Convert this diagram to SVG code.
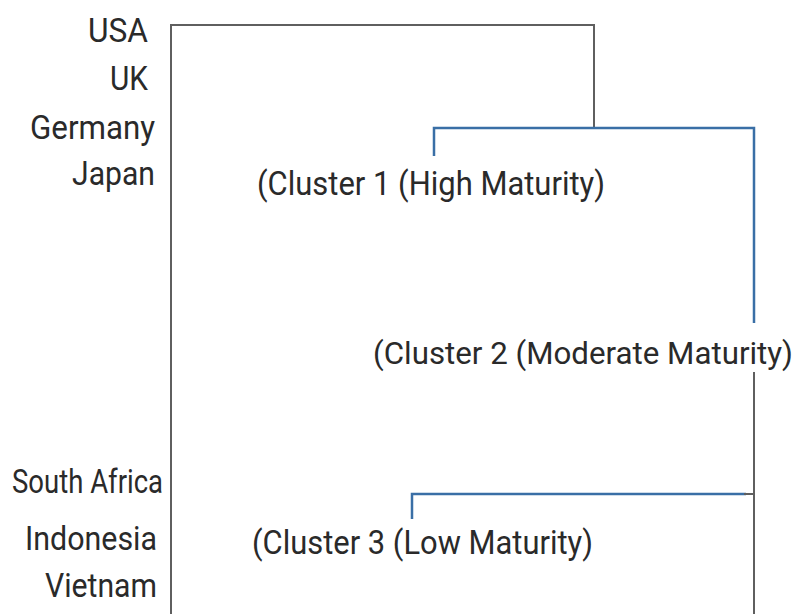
<svg xmlns="http://www.w3.org/2000/svg" width="800" height="614" viewBox="0 0 800 614">
<style>
text{font-family:Roboto,"Liberation Sans",sans-serif;font-size:33px;fill:#2a2a2a}
.lbl{text-anchor:end}
.c2{font-size:31px}
.g{stroke:#5f5f5f;stroke-width:2;fill:none}
.b{stroke:#3a6fa6;stroke-width:2.5;fill:none}
</style>
<rect width="800" height="614" fill="#fff"/>
<g id="connectors">
<polyline class="g" points="171,614 171,25 594,25 594,127"/>
<polyline class="b" points="434,156 434,128 754,128 754,323"/>
<polyline class="g" points="754,372 754,614"/>
<polyline class="b" points="412,519 412,494 746,494"/>
<line class="g" x1="744" y1="494" x2="754" y2="494"/>
</g>
<g id="usa"><text class="lbl" x="148" y="42" textLength="60" lengthAdjust="spacingAndGlyphs">USA</text></g>
<g id="uk"><text class="lbl" x="148" y="90" textLength="38" lengthAdjust="spacingAndGlyphs">UK</text></g>
<g id="germany"><text class="lbl" x="155" y="139" textLength="125" lengthAdjust="spacingAndGlyphs">Germany</text></g>
<g id="japan"><text class="lbl" x="155" y="185" textLength="83" lengthAdjust="spacingAndGlyphs">Japan</text></g>
<g id="southafrica"><text class="lbl" x="163" y="493" textLength="151" lengthAdjust="spacingAndGlyphs">South Africa</text></g>
<g id="indonesia"><text class="lbl" x="157" y="550" textLength="132" lengthAdjust="spacingAndGlyphs">Indonesia</text></g>
<g id="vietnam"><text class="lbl" x="157" y="597" textLength="112" lengthAdjust="spacingAndGlyphs">Vietnam</text></g>
<g id="cluster1"><text x="257" y="195" textLength="348" lengthAdjust="spacingAndGlyphs">(Cluster 1 (High Maturity)</text></g>
<g id="cluster2"><text class="c2" x="373" y="364" textLength="420" lengthAdjust="spacingAndGlyphs">(Cluster 2 (Moderate Maturity)</text></g>
<g id="cluster3"><text x="252" y="554" textLength="341" lengthAdjust="spacingAndGlyphs">(Cluster 3 (Low Maturity)</text></g>
</svg>
